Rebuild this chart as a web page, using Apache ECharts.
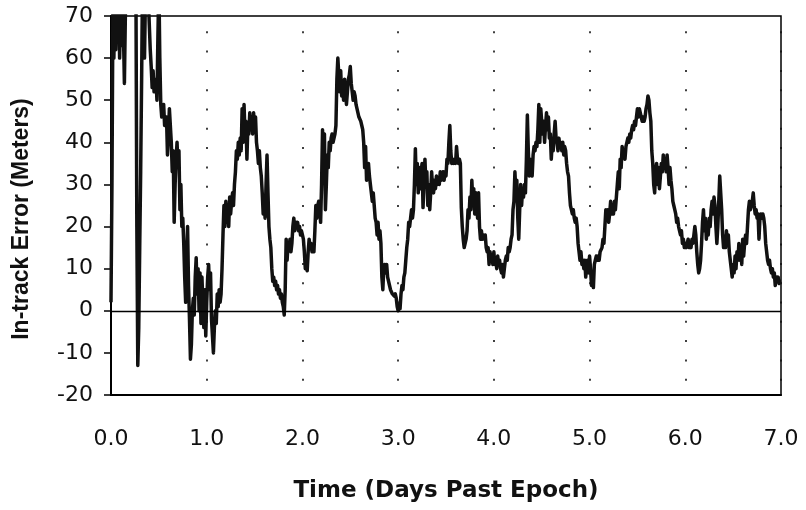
<!DOCTYPE html>
<html>
<head>
<meta charset="utf-8">
<script src="https://cdn.jsdelivr.net/npm/echarts@6/dist/echarts.min.js"></script>
<style>
html,body{margin:0;padding:0;background:#fff;}
#chart{width:806px;height:510px;}
</style>
</head>
<body>
<div id="chart"></div>
<script>
// ---- Data ----
const xTickLabels = ['0.0', '1.0', '2.0', '3.0', '4.0', '5.0', '6.0', '7.0'];
const yTickLabels = ['-20', '-10', '0', '10', '20', '30', '40', '50', '60', '70'];
const xAxisTitle = 'Time (Days Past Epoch)';
const yAxisTitle = 'In-track Error (Meters)';
const sampleStepDays = 0.01; // one sample every 0.01 day, starting at day 0.00
// In-track error (meters), one row per 0.1 day
const errorMeters = [
  2,30,72,60,75,62,72,64,78,60,        // 0.0x
  70,63,75,66,54,70,80,85,90,95,       // 0.1x
  92,88,95,90,85,88,80,20,-13,-4,      // 0.2x
  15,33,55,80,72,60,75,82,78,74,       // 0.3x
  68,62,58,53,57,52,54,55,50,65,       // 0.4x
  78,60,49,46,48,49,44,45,46,37,       // 0.5x
  42,48,44,40,33,38,21,30,36,40,       // 0.6x
  34,38,24,30,20,22,16,8,2,12,         // 0.7x
  20,6,-2,-11.5,-8,0,3,-1,8,12.6,      // 0.8x
  4,10,0,9,-3,8,2,-4,5,-6,             // 0.9x
  2,8,11,5,9,-2,-6,-10,-4,0,           // 1.0x
  -3,4,1,5,2,4,10,18,25,20,            // 1.1x
  26,21,24,20,27,23,26,28,25,30,       // 1.2x
  33,38,36,40,37,41,38,48,40,49,       // 1.3x
  42,45,36,44,42,47,43,46,42,47,       // 1.4x
  43,46,40,38,35,38,34,32,28,23,       // 1.5x
  26,22,30,37,28,20,17,15,10,7,        // 1.6x
  8,6,7,5,6,4,5,3,4,2,                 // 1.7x
  1,-1,5,17,12,16,15,17,14,16,         // 1.8x
  20,22,19,21,20,21,19,20,18,19,       // 1.9x
  18,17,14,10,12,9.5,14,17,15,16,      // 2.0x
  14,15,14,19,25,22,25,26,24,21,       // 2.1x
  30,43,35,42,24,30,37,34,40,38,       // 2.2x
  41,42,40,41,42,44,55,60,56,52,       // 2.3x
  57,51,53,50,55,52,49,52,55,56,       // 2.4x
  58,54,52,50,52,51,49,48,47,46,       // 2.5x
  46,45,44,43,40,34,39,31,33,35,       // 2.6x
  32,30,28,26,28,25,22,21,18,21,       // 2.7x
  17,19,16,8,5,10,11,9,11,8,           // 2.8x
  8,6,5,5,4,4,3.5,4,3,1,               // 2.9x
  0,1,0.5,4,6,5,8,9,12,15,             // 3.0x
  17,21,20,22,24,22,24,30,38.5,30,     // 3.1x
  35,28,34,29,33,35,24.5,30,36,30,     // 3.2x
  33,25,30,24,28,33,29,28,31,29,       // 3.3x
  32,30,31,30,33,31,32,33,31,33,       // 3.4x
  32,36,35,40,44,38,35,36,35,36,       // 3.5x
  35,39,36,35,36,35,24.5,20,17,15,     // 3.6x
  16,17,19,24,22,27,24,31,26,29,       // 3.7x
  23,28,27,22,28,20,17,19,17,18,       // 3.8x
  17,18,15,14,15,11,14,12,13,11,       // 3.9x
  14,11,12,10,13,11,12,10,9,11,        // 4.0x
  8,10,12,13,12,15,14,15,17,18,        // 4.1x
  24,26,33,28,31,22,17,24,30,25,       // 4.2x
  29,27,30,28,36,46.5,38,32,36,34,     // 4.3x
  32,37,39,38,40,39,43,49,40,48,       // 4.4x
  45,42,45,40,44,47,43,46,41,42,       // 4.5x
  36,40,38,42,45,41,40,38,41,39,       // 4.6x
  40,38,40,37,39,38,35,33,32,28,       // 4.7x
  25,24,23,24,22,21,22,20,16,14,       // 4.8x
  12,14,11,12,10,12,8,11,12,9,         // 4.9x
  13,10,6,8,5.5,11,12,13,12,13,        // 5.0x
  12,14,14,15,17,16,20,24,22,24,       // 5.1x
  21,23,26,23,25,23,26,24,27,30,       // 5.2x
  33,29,36,34,39,37,38,36,39,40,       // 5.3x
  41,40,42,41,43,44,43,45,44,46,       // 5.4x
  48,46,48,47,46,45,46,45,46,48,       // 5.5x
  49,51,50,47,45,38,35,30,28,33,       // 5.6x
  35,30,34,29,32,35,33,37,34,36,       // 5.7x
  33,37,34,30,34,31,29,26,25,24,       // 5.8x
  23,21,22,20,19,18,19,16,17,15,       // 5.9x
  16,15,16,17,15,16,15,17,16,18,       // 6.0x
  20,18,14,11,9,10,12,16,21,24,        // 6.1x
  19,22,17,21,18,22,20,24,26,23,       // 6.2x
  27,25,20,16,20,26,32,28,24,18,       // 6.3x
  15,17,15,19,16,18,14,12,10,8,        // 6.4x
  11,9,13,10,14,12,16,12,15,11,        // 6.5x
  17,13,16,18,16,20,24,26,24,25,       // 6.6x
  26,28,25,23,24,22,23,17,22,23,       // 6.7x
  22,23,22,20,16,14,12,11,12,10,       // 6.8x
  9,10,8,9,6,8,7,8,6.5,7,              // 6.9x
  7                                    // 7.00
];

// ---- Build chart ----
const seriesData = errorMeters.map((v, i) => [Math.round(i * sampleStepDays * 100) / 100, v]);

const chart = echarts.init(document.getElementById('chart'), null, { renderer: 'canvas' });
chart.setOption({
  animation: false,
  backgroundColor: '#ffffff',
  grid: {
    left: 111, right: 25, top: 16, bottom: 115,
    show: true, borderColor: '#000', borderWidth: 1.5, backgroundColor: 'transparent'
  },
  xAxis: {
    type: 'value', min: 0, max: 7, interval: 1,
    axisLine: { onZero: false, lineStyle: { color: '#000', width: 2 } },
    axisTick: { show: false },
    axisLabel: {
      margin: 33, color: '#111', fontFamily: 'DejaVu Sans', fontSize: 22,
      formatter: v => xTickLabels[Math.round(v)]
    },
    splitLine: { show: true, lineStyle: { color: '#111', width: 1.6, type: [2, 17.3], dashOffset: 4 } },
    name: xAxisTitle, nameLocation: 'middle', nameGap: 85,
    nameTextStyle: { fontFamily: 'DejaVu Sans', fontWeight: 'bold', fontSize: 23, color: '#111' }
  },
  yAxis: {
    type: 'value', min: -20, max: 70, interval: 10,
    axisLine: { show: true, lineStyle: { color: '#000', width: 2 } },
    axisTick: { show: true, inside: false, length: 7, lineStyle: { color: '#000', width: 1.5 } },
    axisLabel: {
      margin: 18, color: '#111', fontFamily: 'DejaVu Sans', fontSize: 22,
      formatter: v => yTickLabels[Math.round((v + 20) / 10)]
    },
    splitLine: { show: false }
  },
  graphic: [{
    type: 'text', x: 22, y: 219, rotation: Math.PI / 2,
    style: {
      text: yAxisTitle, fill: '#111',
      font: 'bold 23px "Liberation Sans", Arial, sans-serif',
      align: 'center', verticalAlign: 'middle'
    }
  }],
  series: [{
    type: 'line', data: seriesData, symbol: 'none', clip: true,
    lineStyle: { color: '#111', width: 3.5, join: 'round' },
    markLine: {
      silent: true, symbol: 'none', label: { show: false },
      lineStyle: { color: '#000', width: 1.3, type: 'solid' },
      data: [{ yAxis: 0 }]
    }
  }]
});
</script>
</body>
</html>
